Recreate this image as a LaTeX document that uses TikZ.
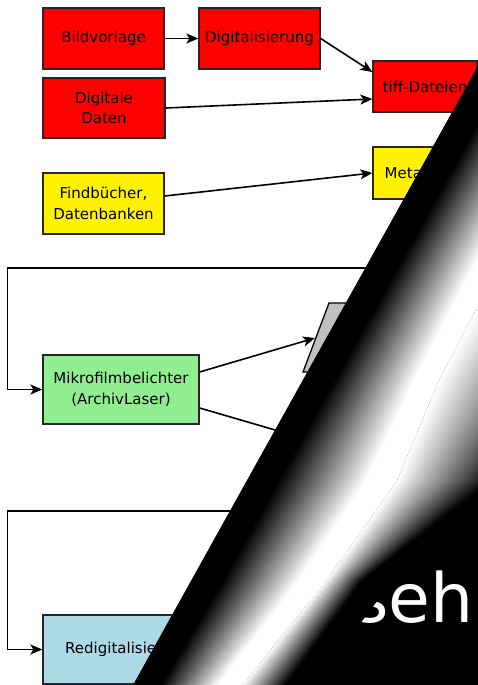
\documentclass[tikz,border=0pt]{standalone}
\usepackage{fontspec}
\setmainfont{DejaVu Sans}
\usetikzlibrary{arrows.meta,calc}
\definecolor{mygreen}{HTML}{90EE90}
\definecolor{myblue}{HTML}{ADD8E6}
\definecolor{mygrey}{HTML}{C0C0C0}
\begin{document}
\begin{tikzpicture}[x=1pt,y=-1pt,
  every node/.style={font=\fontsize{15}{20.5}\selectfont},
  box/.style={draw=black!85, line width=1.3pt, inner sep=0pt, align=center},
  conn/.style={draw=black, line width=1.6pt, -{Stealth[length=12pt,width=10pt,inset=3pt]}}]
\useasboundingbox (0,0) rectangle (478,685);

% boxes
\node[box, fill=red, minimum width=121pt, minimum height=61pt] (bild) at (103.5,38.5) {Bildvorlage};
\node[box, fill=red, minimum width=121pt, minimum height=61pt] (digi) at (259.5,38.5) {Digitalisierung};
\node[box, fill=red, minimum width=122pt, minimum height=60pt] (dd) at (104,108) {Digitale\\Daten};
\node[box, fill=red, minimum width=104pt, minimum height=51pt] (tiff) at (425,86.5) {tiff-Dateien};
\node[box, fill=yellow, minimum width=121pt, minimum height=61pt] (findb) at (103.5,203.5) {Findbücher,\\Datenbanken};
\node[box, fill=yellow, minimum width=104pt, minimum height=52pt] (meta) at (425,173) {Metadaten};
\node[box, fill=mygreen, minimum width=156pt, minimum height=69pt] (mikro) at (121,389.5) {Mikrofilmbelichter\\(ArchivLaser)};
\node[box, fill=myblue, minimum width=170pt, minimum height=69pt] (redig) at (128,649.5) {Redigitalisierung};
\draw[fill=mygrey, draw=black, line width=1.3pt] (329,303) -- (460,303) -- (434,372) -- (303,372) -- cycle;
\coordinate (paraW) at (315,338);
\coordinate (mhid) at (330,446);
\coordinate (loopA) at (470,268);
\coordinate (loopB) at (330,511);

% connectors
\draw[conn] (bild.east) -- (digi.west);
\draw[conn] (digi.east) -- ([yshift=14.5pt]tiff.west);
\draw[conn] (dd.east) -- ([yshift=-12.5pt]tiff.west);
\draw[conn] ([yshift=7.5pt]findb.east) -- (meta.west);
\draw[conn] (loopA) -| ([xshift=-35pt]mikro.west) -- (mikro.west);
\draw[conn] ([yshift=17.5pt]mikro.east) -- (paraW);
\draw[conn] ([yshift=-18.5pt]mikro.east) -- (mhid);
\draw[conn] (loopB) -| ([xshift=-35pt]redig.west) -- (redig.west);

% page curl
\begin{scope}
\clip (0,0) rectangle (478,685);
\foreach \n/\y/\f/\d/\w/\a/\b/\o in {
  1/40/492.4/524.4/600.4/624.4/850/880,
  2/260/369.9/401.9/477.9/501.9/680/710,
  3/380/303.0/335.0/415.0/439.0/574/600,
  4/480/247.3/279.3/367.3/397.3/492/505,
  5/580/191.6/223.6/299.6/326.6/363/393,
  6/690/130.4/158.4/214.4/238.4/282/310}{
  \coordinate (cF\n) at (\f,\y);
  \coordinate (cD\n) at (\d,\y);
  \coordinate (cW\n) at (\w,\y);
  \coordinate (cA\n) at (\a,\y);
  \coordinate (cB\n) at (\b,\y);
  \coordinate (cO\n) at (\o,\y);
}
\fill[black] (cF1) -- (cF6) -- (700,690) -- (700,40) -- cycle;
\node[text=white, font=\fontsize{68}{68}\selectfont, anchor=base east, inner sep=0pt] (seh) at (474,622) {seh};
% flap base
\fill[black] (cF1) \foreach \j in {2,...,6}{ -- (cF\j) } \foreach \j in {6,5,...,1}{ -- (cO\j) } -- cycle;
% ramp black -> white
\foreach \i in {0,...,39}{
  \pgfmathsetmacro\ta{\i/40}
  \pgfmathsetmacro\tb{(\i+1.6)/40}
  \pgfmathtruncatemacro\pc{100-100*(\i+0.5)/40}
  \fill[black!\pc] ($(cD1)!\ta!(cW1)$) \foreach \j in {2,...,6}{ -- ($(cD\j)!\ta!(cW\j)$) } \foreach \j in {6,5,...,1}{ -- ($(cD\j)!\tb!(cW\j)$) } -- cycle;
}
% white band
\fill[white] (cW1) \foreach \j in {2,...,6}{ -- (cW\j) } \foreach \j in {6,5,...,1}{ -- (cA\j) } -- cycle;
% ramp white -> black
\foreach \i in {0,...,39}{
  \pgfmathsetmacro\ta{\i/40}
  \pgfmathsetmacro\tb{(\i+1.6)/40}
  \pgfmathtruncatemacro\pc{100*(\i+0.5)/40}
  \fill[black!\pc] ($(cA1)!\ta!(cB1)$) \foreach \j in {2,...,6}{ -- ($(cA\j)!\ta!(cB\j)$) } \foreach \j in {6,5,...,1}{ -- ($(cA\j)!\tb!(cB\j)$) } -- cycle;
}
\end{scope}
\end{tikzpicture}
\end{document}
